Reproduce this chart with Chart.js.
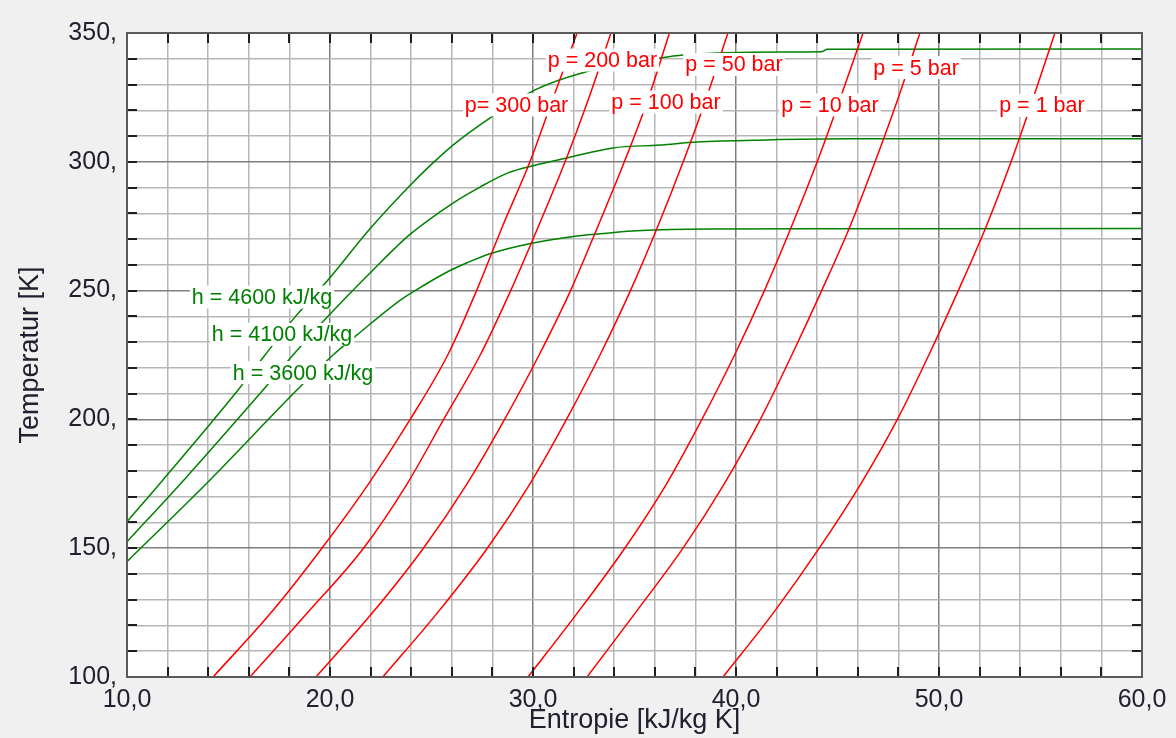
<!DOCTYPE html>
<html>
<head>
<meta charset="utf-8">
<title>T-s Diagramm</title>
<script src="https://cdn.jsdelivr.net/npm/chart.js@4/dist/chart.umd.min.js"></script>
<style>
  html, body { margin: 0; padding: 0; background: #f0f0f0; }
  #ts { display: block; }
</style>
</head>
<body>
<canvas id="ts" width="1176" height="738"></canvas>
<script>
// isobars: temperature [K] vs entropy [kJ/kg K]
const temperature = [100, 125, 150, 175, 200, 225, 250, 275, 300, 325, 350];
const entropyP300 = [14.24, 17.1, 19.6, 21.9, 23.95, 25.8, 27.22, 28.5, 29.85, 31.0, 32.17];
const entropyP200 = [16.06, 18.9, 21.65, 23.8, 25.6, 27.4, 28.9, 30.27, 31.58, 32.76, 33.84];
const entropyP100 = [19.31, 22.1, 24.6, 26.75, 28.6, 30.3, 31.85, 33.2, 34.5, 35.7, 36.72];
const entropyP50 = [22.6, 25.3, 27.75, 29.85, 31.65, 33.3, 34.8, 36.15, 37.4, 38.55, 39.6];
const entropyP10 = [29.75, 32.2, 34.52, 36.58, 38.32, 39.93, 41.4, 42.74, 44.0, 45.15, 46.26];
const entropyP5 = [32.66, 35.05, 37.39, 39.42, 41.2, 42.75, 44.22, 45.62, 46.85, 48.0, 49.06];
const entropyP1 = [39.36, 41.85, 44.1, 46.15, 47.95, 49.5, 50.95, 52.33, 53.55, 54.65, 55.71];

// isenthalps
const h4600S = [10, 11.77, 15.47, 16.8, 18.28, 19.9, 21.97, 23.94, 24.93, 26.06, 27.73, 30.1, 32.41, 36.26, 37.39, 42.4, 44.2, 44.5, 60];
const h4600T = [160.3, 176.5, 211.4, 225.0, 239.8, 254.1, 274.0, 290.8, 298.5, 306.5, 316.2, 327.9, 334.5, 340.3, 341.5, 342.6, 342.7, 343.7, 343.8];
const h4100S = [10, 12.86, 16.7, 18.18, 19.6, 22.12, 23.94, 26.06, 27.39, 28.77, 30.0, 31.67, 33.94, 36.26, 38.08, 41.53, 45.62, 60];
const h4100T = [152.5, 177.0, 211.4, 225.0, 237.5, 258.0, 271.8, 284.0, 290.2, 295.7, 298.5, 301.5, 305.4, 306.5, 307.7, 308.5, 308.9, 308.9];
const h3600S = [10, 14.09, 18.37, 20.15, 21.33, 23.45, 24.09, 25.91, 26.75, 27.88, 30.0, 32.17, 33.79, 35.12, 38.57, 45.62, 60];
const h3600T = [144.8, 176.5, 211.4, 225.0, 232.8, 246.2, 249.5, 257.8, 260.8, 264.3, 268.5, 271.2, 272.4, 273.2, 273.9, 274.0, 274.1];

const RED = '#ff0000';
const GREEN = '#008000';
const FONT = '"Liberation Sans", Arial, sans-serif';
const TEXT = '#202030';

// curve labels, anchored in data units (entropy, temperature)
const curveLabels = [
  { text: 'p= 300 bar', s: 29.19, t: 321.5, color: RED },
  { text: 'p = 200 bar', s: 33.42, t: 338.9, color: RED },
  { text: 'p = 100 bar', s: 36.55, t: 322.6, color: RED },
  { text: 'p = 50 bar', s: 39.9, t: 337.2, color: RED },
  { text: 'p = 10 bar', s: 44.63, t: 321.5, color: RED },
  { text: 'p = 5 bar', s: 48.87, t: 336.0, color: RED },
  { text: 'p = 1 bar', s: 55.07, t: 321.3, color: RED },
  { text: 'h = 4600 kJ/kg', s: 16.65, t: 246.9, color: GREEN },
  { text: 'h = 4100 kJ/kg', s: 17.64, t: 232.4, color: GREEN },
  { text: 'h = 3600 kJ/kg', s: 18.67, t: 217.6, color: GREEN }
];

const isobar = (entropy) => entropy.map((s, i) => ({ x: s, y: temperature[i] }));
const isenthalp = (sArr, tArr) => sArr.map((s, i) => ({ x: s, y: tArr[i] }));

const lineStyle = (color) => ({
  borderColor: color,
  borderWidth: 1.5,
  pointRadius: 0,
  fill: false,
  cubicInterpolationMode: 'monotone'
});

const isMultiple = (v, m) => Math.abs(v / m - Math.round(v / m)) < 1e-6;

const framePlugin = {
  id: 'frame',
  beforeDraw(chart) {
    const { ctx, chartArea: a } = chart;
    ctx.save();
    ctx.fillStyle = '#ffffff';
    ctx.fillRect(a.left, a.top, a.width, a.height);
    ctx.restore();
  },
  afterDatasetsDraw(chart) {
    const { ctx, scales: { x, y } } = chart;
    ctx.save();
    ctx.font = '21.5px ' + FONT;
    ctx.textAlign = 'center';
    ctx.textBaseline = 'alphabetic';
    curveLabels.forEach((l) => {
      const cx = x.getPixelForValue(l.s);
      const cy = y.getPixelForValue(l.t);
      const w = ctx.measureText(l.text).width + 4;
      ctx.fillStyle = '#ffffff';
      ctx.fillRect(cx - w / 2, cy - 13, w, 23);
      ctx.fillStyle = l.color;
      ctx.fillText(l.text, cx, cy + 5.5);
    });
    ctx.restore();
  },
  afterDraw(chart) {
    const { ctx, chartArea: a, scales: { x, y } } = chart;
    ctx.save();
    ctx.strokeStyle = '#1e1e1e';
    ctx.lineWidth = 2;
    ctx.beginPath();
    x.ticks.forEach((t) => {
      const px = Math.round(x.getPixelForValue(t.value));
      ctx.moveTo(px, a.top);
      ctx.lineTo(px, a.top + 10);
      ctx.moveTo(px, a.bottom);
      ctx.lineTo(px, a.bottom - 10);
    });
    y.ticks.forEach((t) => {
      const py = Math.round(y.getPixelForValue(t.value));
      ctx.moveTo(a.left, py);
      ctx.lineTo(a.left + 10, py);
      ctx.moveTo(a.right, py);
      ctx.lineTo(a.right - 10, py);
    });
    ctx.stroke();
    ctx.strokeStyle = '#5a5a5a';
    ctx.lineWidth = 2;
    ctx.strokeRect(a.left, a.top, a.width, a.height);
    ctx.restore();
  }
};

new Chart(document.getElementById('ts'), {
  type: 'line',
  data: {
    datasets: [
      { label: 'p = 300 bar', data: isobar(entropyP300), ...lineStyle(RED) },
      { label: 'p = 200 bar', data: isobar(entropyP200), ...lineStyle(RED) },
      { label: 'p = 100 bar', data: isobar(entropyP100), ...lineStyle(RED) },
      { label: 'p = 50 bar', data: isobar(entropyP50), ...lineStyle(RED) },
      { label: 'p = 10 bar', data: isobar(entropyP10), ...lineStyle(RED) },
      { label: 'p = 5 bar', data: isobar(entropyP5), ...lineStyle(RED) },
      { label: 'p = 1 bar', data: isobar(entropyP1), ...lineStyle(RED) },
      { label: 'h = 4600 kJ/kg', data: isenthalp(h4600S, h4600T), ...lineStyle(GREEN) },
      { label: 'h = 4100 kJ/kg', data: isenthalp(h4100S, h4100T), ...lineStyle(GREEN) },
      { label: 'h = 3600 kJ/kg', data: isenthalp(h3600S, h3600T), ...lineStyle(GREEN) }
    ]
  },
  options: {
    responsive: false,
    devicePixelRatio: 1,
    animation: false,
    layout: { padding: { top: 33, right: 34, left: 0, bottom: 0 } },
    plugins: {
      legend: { display: false },
      tooltip: { enabled: false }
    },
    scales: {
      x: {
        type: 'linear',
        position: 'bottom',
        min: 10,
        max: 60,
        border: { display: false },
        grid: {
          drawTicks: false,
          lineWidth: 1.5,
          color: (c) => (c.tick && isMultiple(c.tick.value, 10) ? '#7e7e7e' : '#b6b6b6')
        },
        ticks: {
          stepSize: 2,
          autoSkip: false,
          maxRotation: 0,
          padding: 8,
          color: TEXT,
          font: { family: FONT, size: 25 },
          callback: (v) => (isMultiple(v, 10) ? v.toFixed(1).replace('.', ',') : '')
        },
        title: {
          display: true,
          text: 'Entropie [kJ/kg K]',
          color: TEXT,
          font: { family: FONT, size: 27 },
          padding: { top: 0, bottom: 1 }
        },
        afterFit: (s) => { s.height = 61; }
      },
      y: {
        type: 'linear',
        min: 100,
        max: 350,
        border: { display: false },
        grid: {
          drawTicks: false,
          lineWidth: 1.5,
          color: (c) => (c.tick && isMultiple(c.tick.value, 50) ? '#7e7e7e' : '#b6b6b6')
        },
        ticks: {
          stepSize: 10,
          autoSkip: false,
          padding: 10,
          color: TEXT,
          font: { family: FONT, size: 25 },
          callback: (v) => (isMultiple(v, 50) ? v + ',' : '')
        },
        title: {
          display: true,
          text: 'Temperatur [K]',
          color: TEXT,
          font: { family: FONT, size: 27 },
          padding: { top: 14, bottom: 0 }
        },
        afterFit: (s) => { s.width = 127; }
      }
    }
  },
  plugins: [framePlugin]
});
</script>
</body>
</html>
